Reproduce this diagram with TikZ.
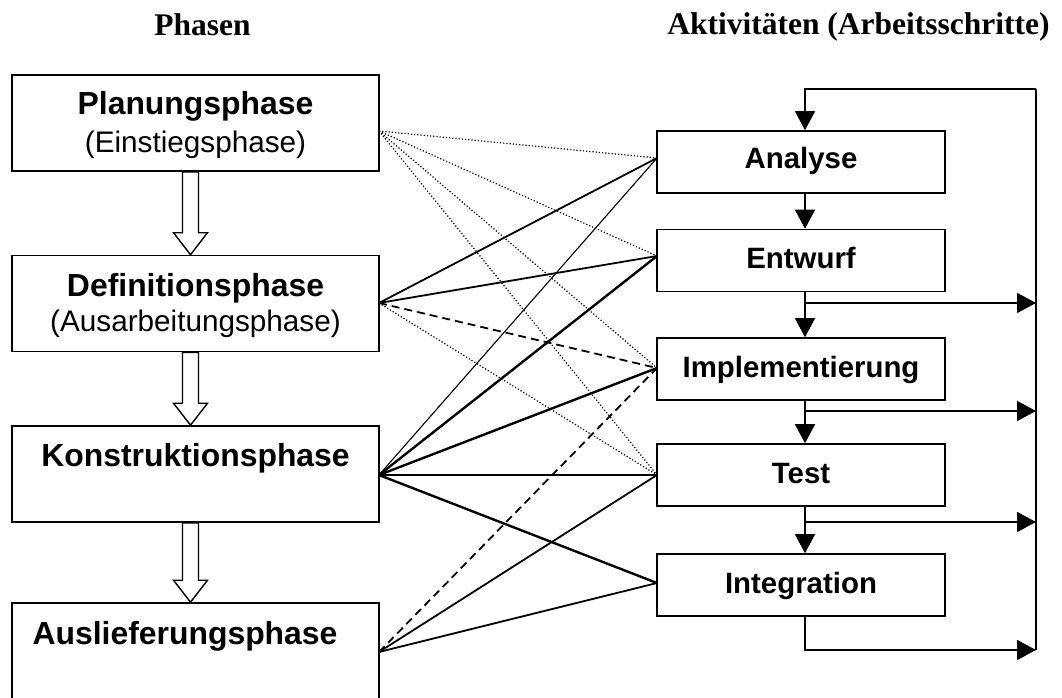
\documentclass[tikz,border=0pt]{standalone}
\usepackage{fontspec}
\setmainfont{Liberation Serif}
\newfontfamily\arial{Liberation Sans}
\usetikzlibrary{arrows.meta,calc}

\tikzset{
  phasebox/.style={draw, line width=1.6pt, minimum width=367pt, minimum height=96pt, inner sep=0pt},
  actbox/.style={draw, line width=1.6pt, minimum width=288pt, minimum height=62pt, inner sep=0pt},
  phasetitle/.style={anchor=base, inner sep=0pt, font=\arial\bfseries\fontsize{31.9}{36}\selectfont},
  phasesub/.style={anchor=base, inner sep=0pt, font=\arial\fontsize{29.7}{34}\selectfont},
  acttext/.style={anchor=base, inner sep=0pt, font=\arial\bfseries\fontsize{29.4}{34}\selectfont},
  header/.style={anchor=base, inner sep=0pt, font=\bfseries\fontsize{31.5}{36}\selectfont},
  hollow/.style={draw, line width=1.4pt, fill=white, line join=miter},
  flow/.style={line width=1.5pt, -{Triangle[length=19pt,width=20pt]}},
  plainflow/.style={line width=1.5pt},
  lnthick/.style={line width=2.4pt},
  lnmed/.style={line width=1.8pt},
  lnthin/.style={line width=1.1pt},
  lndot/.style={line width=1.2pt, dash pattern=on 1.2pt off 2pt},
  lndash/.style={line width=1.8pt, dash pattern=on 8pt off 5pt},
}

\begin{document}
\begin{tikzpicture}[x=1pt, y=-1pt]
  \clip (0,0) rectangle (1062,698);
  \fill[white] (0,0) rectangle (1062,698);

  % column headers
  \node[header] (hphase) at (202.5,36) {Phasen};
  \node[header] (hact) at (858.5,35) {Aktivitäten (Arbeitsschritte)};

  % phases
  \node[phasebox] (plan) at (195.5,123) {};
  \node[phasebox] (defn) at (195.5,303.5) {};
  \node[phasebox] (kons) at (195.5,474) {};
  \node[phasebox] (ausl) at (195.5,651) {};

  \node[phasetitle] (plant) at (195.5,115) {Planungsphase};
  \node[phasesub]   (plans) at (195.5,153) {(Einstiegsphase)};
  \node[phasetitle] (defnt) at (195.5,296) {Definitionsphase};
  \node[phasesub]   (defns) at (195.5,331) {(Ausarbeitungsphase)};
  \node[phasetitle] (konst) at (195.5,466) {Konstruktionsphase};
  \node[phasetitle] (auslt) at (185,644) {Auslieferungsphase};

  % hollow arrows between phases
  \foreach \a/\b in {plan/defn, defn/kons, kons/ausl}{
    \draw[hollow] ($(\a.south)+(-13,0)$) -- ($(\b.north)+(-13,-22)$)
      -- ($(\b.north)+(-22,-22)$) -- ($(\b.north)+(-5,0)$)
      -- ($(\b.north)+(12,-22)$) -- ($(\b.north)+(3,-22)$)
      -- ($(\a.south)+(3,0)$) -- cycle;
  }

  % activities
  \node[actbox] (ana) at (801,162) {};
  \node[actbox] (ent) at (801,260.5) {};
  \node[actbox] (imp) at (801,369) {};
  \node[actbox] (tst) at (801,475) {};
  \node[actbox] (int) at (801,585) {};

  \node[acttext] (anat) at (801,168) {Analyse};
  \node[acttext] (entt) at (801,268) {Entwurf};
  \node[acttext] (impt) at (801,377) {Implementierung};
  \node[acttext] (tstt) at (801,483) {Test};
  \node[acttext] (intt) at (801,593) {Integration};

  % flow between activities
  \coordinate (loopR) at (1036,89);
  \draw[flow] ($(ana.south)+(4,0)$) -- ($(ent.north)+(4,0)$);
  \draw[flow] ($(ent.south)+(4,0)$) -- ($(imp.north)+(4,0)$);
  \draw[flow] ($(imp.south)+(4,0)$) -- ($(tst.north)+(4,0)$);
  \draw[flow] ($(tst.south)+(4,0)$) -- ($(int.north)+(4,0)$);

  % feedback loop
  \coordinate (r1) at (1036,303);
  \coordinate (r2) at (1036,411);
  \coordinate (r3) at (1036,522);
  \coordinate (r4) at (1036,650);
  \draw[plainflow] (r4) -- (loopR);
  \draw[flow] (loopR) -- (805,89) -- ($(ana.north)+(4,0)$);
  \draw[flow] (805,303) -- (r1);
  \draw[flow] (805,411) -- (r2);
  \draw[flow] (805,522) -- (r3);
  \draw[flow] ($(int.south)+(4,0)$) -- (805,650) -- (r4);

  % attachment points
  \coordinate (pP) at (379,131);
  \coordinate (pD) at (379,303);
  \coordinate (pK) at (379,475);
  \coordinate (pA) at (379,652);
  \coordinate (aA) at (657,158);
  \coordinate (aE) at (657,256);
  \coordinate (aI) at (657,368);
  \coordinate (aT) at (657,475);
  \coordinate (aG) at (657,583);

  % Planungsphase
  \draw[lndot] (pP) -- (aA);
  \draw[lndot] (pP) -- (aE);
  \draw[lndot] (pP) -- (aI);
  \draw[lndot] (pP) -- (aT);
  % Definitionsphase
  \draw[lnmed] (pD) -- (aA);
  \draw[lnmed] (pD) -- (aE);
  \draw[lndash] (pD) -- (aI);
  \draw[lndot] (pD) -- (aT);
  % Konstruktionsphase
  \draw[lnthin] (pK) -- (aA);
  \draw[lnthick] (pK) -- (aE);
  \draw[lnthick] (pK) -- (aI);
  \draw[lnthick] (pK) -- (aT);
  \draw[lnthick] (pK) -- (aG);
  % Auslieferungsphase
  \draw[lndash] (pA) -- (aI);
  \draw[lnmed] (pA) -- (aT);
  \draw[lnmed] (pA) -- (aG);
\end{tikzpicture}
\end{document}
